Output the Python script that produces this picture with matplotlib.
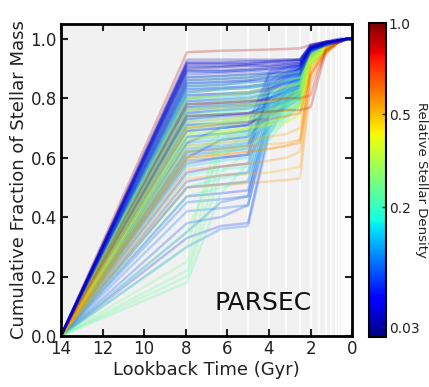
import numpy as np
import matplotlib
matplotlib.use("Agg")
from matplotlib import pyplot as plt
from matplotlib import colors, cm

# time nodes of the cumulative SFHs (Gyr); first is 0, last two are 1
node_times = [14.0, 7.94, 6.31, 5.01, 3.98, 3.16, 2.51, 2.0, 1.26, 0.63, 0.25, 0.0]
# white bin edges in the background
bin_edges = [7.94, 6.31, 5.01, 3.98, 3.16, 2.51, 2.0, 1.58, 1.26, 1.0, 0.79,
             0.63, 0.5, 0.4, 0.32, 0.25, 0.2, 0.16, 0.13, 0.1]

# each row: relative density, then cum. fraction at 7.94 .. 0.63 Gyr
red_rows = [
    [0.90, .955, .96, .962, .964, .966, .968, .98, .99, .995],
    [0.85, .78, .785, .79, .795, .80, .80, .81, .97, .99],
    [0.95, .74, .745, .75, .755, .76, .76, .77, .96, .99],
    [0.72, .70, .71, .72, .73, .74, .75, .88, .96, .99],
    [0.65, .60, .61, .62, .63, .64, .65, .88, .955, .99],
]
orange_rows = [
    [0.40, .80, .81, .82, .83, .84, .85, .95, .975, .99],
    [0.45, .76, .77, .78, .79, .80, .82, .94, .97, .99],
    [0.50, .72, .73, .74, .75, .76, .78, .93, .97, .99],
    [0.42, .68, .69, .70, .71, .72, .74, .92, .965, .99],
    [0.55, .64, .65, .66, .67, .68, .70, .91, .96, .99],
    [0.48, .60, .61, .62, .63, .64, .66, .90, .96, .99],
    [0.58, .56, .57, .58, .59, .60, .62, .89, .955, .99],
    [0.52, .53, .54, .545, .55, .56, .57, .87, .95, .99],
    [0.60, .50, .51, .515, .52, .525, .53, .85, .95, .99],
    [0.38, .70, .72, .73, .74, .76, .78, .93, .97, .99],
    [0.44, .66, .68, .70, .72, .74, .76, .92, .965, .99],
    [0.56, .62, .63, .64, .645, .65, .66, .90, .96, .99],
]
green_rows = [
    [0.26, .84, .85, .86, .87, .88, .89, .955, .98, .99],
    [0.28, .80, .81, .82, .84, .86, .87, .95, .975, .99],
    [0.30, .76, .78, .79, .81, .83, .85, .945, .975, .99],
    [0.25, .72, .75, .77, .79, .82, .84, .94, .97, .99],
    [0.32, .68, .72, .74, .77, .80, .83, .935, .97, .99],
    [0.27, .64, .70, .72, .76, .79, .82, .93, .97, .99],
    [0.29, .60, .68, .70, .74, .78, .81, .93, .965, .99],
    [0.24, .22, .60, .66, .74, .78, .81, .93, .965, .99],
    [0.26, .20, .55, .62, .72, .77, .80, .925, .965, .99],
    [0.28, .25, .66, .70, .76, .79, .82, .93, .97, .99],
    [0.23, .18, .48, .58, .70, .76, .79, .92, .96, .99],
    [0.25, .30, .70, .74, .78, .81, .83, .935, .97, .99],
    [0.27, .35, .62, .68, .75, .79, .82, .93, .97, .99],
    [0.34, .86, .865, .87, .88, .885, .89, .955, .98, .99],
    [0.33, .82, .83, .835, .85, .86, .87, .95, .975, .99],
    [0.35, .78, .79, .80, .82, .84, .85, .945, .975, .99],
    [0.31, .74, .76, .77, .79, .81, .83, .94, .97, .99],
    [0.36, .70, .72, .73, .76, .78, .80, .93, .97, .99],
    [0.33, .66, .68, .69, .72, .75, .78, .925, .965, .99],
    [0.30, .62, .66, .68, .71, .74, .77, .92, .965, .99],
    [0.35, .58, .62, .64, .68, .72, .75, .915, .96, .99],
]
cyan_rows = [
    [0.16, .86, .865, .87, .875, .88, .89, .96, .98, .99],
    [0.18, .84, .845, .85, .86, .87, .88, .955, .98, .99],
    [0.15, .82, .83, .835, .845, .855, .87, .955, .98, .99],
    [0.20, .80, .805, .81, .82, .84, .86, .95, .975, .99],
    [0.17, .78, .79, .795, .81, .83, .85, .95, .975, .99],
    [0.19, .76, .77, .78, .80, .82, .84, .945, .975, .99],
    [0.21, .74, .75, .76, .78, .81, .83, .94, .97, .99],
    [0.16, .72, .73, .74, .77, .80, .83, .94, .97, .99],
    [0.18, .70, .71, .72, .76, .79, .82, .935, .97, .99],
    [0.22, .68, .69, .70, .75, .78, .82, .935, .97, .99],
    [0.15, .66, .67, .68, .74, .78, .81, .93, .97, .99],
    [0.20, .64, .65, .66, .73, .77, .81, .93, .97, .99],
    [0.17, .62, .635, .645, .72, .77, .80, .93, .965, .99],
    [0.19, .60, .62, .63, .71, .76, .80, .925, .965, .99],
    [0.16, .57, .59, .60, .70, .75, .79, .92, .965, .99],
    [0.21, .54, .56, .57, .69, .74, .78, .92, .96, .99],
    [0.18, .50, .53, .55, .68, .74, .78, .92, .96, .99],
    [0.20, .47, .50, .52, .66, .73, .78, .915, .96, .99],
    [0.13, .89, .89, .895, .90, .905, .91, .965, .985, .995],
    [0.14, .87, .875, .88, .885, .89, .90, .96, .98, .99],
    [0.12, .85, .855, .86, .87, .88, .89, .96, .98, .99],
    [0.14, .83, .835, .84, .85, .86, .875, .955, .98, .99],
    [0.13, .81, .815, .82, .83, .85, .865, .95, .975, .99],
    [0.15, .79, .80, .805, .815, .835, .855, .95, .975, .99],
    [0.12, .77, .78, .785, .80, .825, .845, .945, .975, .99],
    [0.14, .75, .76, .77, .79, .815, .835, .94, .97, .99],
    [0.13, .73, .74, .75, .78, .81, .83, .94, .97, .99],
    [0.15, .71, .72, .73, .77, .80, .825, .935, .97, .99],
    [0.12, .69, .70, .71, .76, .79, .82, .935, .97, .99],
    [0.14, .67, .68, .69, .75, .785, .815, .93, .97, .99],
    [0.13, .65, .66, .67, .74, .78, .81, .93, .97, .99],
]
blue_low_rows = [
    [0.06, .62, .63, .64, .86, .89, .91, .97, .985, .995],
    [0.08, .58, .60, .61, .84, .88, .90, .965, .985, .995],
    [0.07, .55, .57, .58, .83, .87, .90, .965, .98, .995],
    [0.09, .52, .54, .55, .82, .86, .89, .96, .98, .99],
    [0.10, .50, .51, .52, .80, .85, .88, .96, .98, .99],
    [0.08, .47, .48, .49, .78, .84, .88, .955, .98, .99],
    [0.11, .45, .46, .47, .76, .83, .87, .955, .98, .99],
    [0.12, .42, .43, .44, .74, .82, .86, .95, .975, .99],
    [0.10, .38, .40, .44, .72, .80, .86, .95, .975, .99],
    [0.09, .33, .37, .38, .70, .79, .85, .95, .975, .99],
    [0.12, .30, .36, .37, .68, .78, .85, .945, .975, .99],
    [0.11, .35, .45, .47, .75, .82, .87, .95, .975, .99],
    [0.07, .60, .66, .67, .88, .90, .91, .97, .985, .995],
    [0.065, .65, .70, .71, .89, .905, .915, .97, .985, .995],
    [0.11, .63, .64, .65, .80, .84, .87, .95, .975, .99],
    [0.10, .61, .62, .63, .82, .86, .88, .955, .98, .99],
    [0.09, .59, .60, .61, .83, .87, .89, .96, .98, .99],
    [0.095, .67, .68, .69, .85, .88, .90, .96, .98, .99],
]
blue_rows = [
    [0.07, .82, .83, .835, .845, .855, .865, .95, .975, .99],
    [0.045, .80, .81, .815, .83, .84, .85, .95, .975, .99],
    [0.06, .78, .785, .79, .80, .82, .835, .945, .975, .99],
    [0.035, .76, .77, .775, .785, .80, .82, .94, .97, .99],
    [0.075, .74, .745, .75, .77, .79, .81, .94, .97, .99],
    [0.05, .71, .715, .72, .74, .77, .80, .935, .97, .99],
    [0.07, .83, .835, .84, .85, .86, .87, .955, .98, .99],
    [0.08, .81, .815, .82, .835, .85, .86, .95, .975, .99],
    [0.06, .79, .795, .80, .815, .83, .845, .95, .975, .99],
    [0.085, .77, .775, .78, .80, .82, .84, .945, .975, .99],
    [0.075, .75, .76, .765, .79, .81, .83, .94, .97, .99],
    [0.09, .73, .74, .745, .78, .80, .825, .94, .97, .99],
    [0.08, .69, .70, .71, .76, .79, .82, .935, .97, .99],
]
blue_top_rows = [
    [0.035, .93, .93, .93, .93, .93, .93, .98, .99, 1.0],
    [0.04, .92, .92, .925, .925, .93, .93, .975, .99, .995],
    [0.045, .91, .91, .915, .92, .92, .925, .975, .99, .995],
    [0.03, .90, .905, .91, .91, .915, .92, .97, .985, .995],
    [0.05, .89, .89, .895, .90, .905, .91, .97, .985, .995],
    [0.055, .88, .885, .89, .895, .90, .905, .965, .985, .995],
    [0.04, .87, .875, .88, .885, .89, .90, .965, .98, .995],
    [0.06, .86, .865, .87, .88, .885, .895, .96, .98, .99],
    [0.065, .85, .855, .86, .87, .875, .885, .96, .98, .99],
    [0.05, .84, .845, .855, .86, .87, .88, .955, .98, .99],
    [0.065, .92, .92, .92, .925, .925, .93, .98, .99, 1.0],
    [0.04, .915, .915, .915, .92, .925, .93, .975, .99, .995],
    [0.055, .905, .905, .91, .91, .915, .92, .97, .99, .995],
    [0.03, .895, .895, .90, .905, .91, .915, .97, .985, .995],
]

# colorbar calibration
cbar_dens = [0.027, 0.03, 0.2, 0.5, 1.0]
cbar_frac = [0.0, 0.032, 0.414, 0.71, 1.0]
cbar_ticks = [0.03, 0.2, 0.5, 1.0]
cbar_labels = ['0.03', '0.2', '0.5', '1.0']

txt = '#222222'
plt.rcParams['font.family'] = 'DejaVu Sans'
plt.rcParams['text.color'] = txt
plt.rcParams['axes.labelcolor'] = txt
plt.rcParams['xtick.color'] = txt
plt.rcParams['ytick.color'] = txt

def fwd(x):
    return np.interp(x, cbar_dens, cbar_frac)

def inv(y):
    return np.interp(y, cbar_frac, cbar_dens)

norm = colors.FuncNorm((fwd, inv), vmin=cbar_dens[0], vmax=1.0)
cmap = plt.get_cmap('jet')

fig = plt.figure(figsize=(4.29, 3.87), dpi=100)
ax = fig.add_axes([0.142, 0.132, 0.679, 0.806])
ax.set_facecolor('#f1f1f1')

for t in bin_edges:
    ax.axvline(t, color='white', lw=1.2, zorder=1)

# draw order: most blue first, warm curves over them, top blue band last
groups = [blue_rows, blue_low_rows, cyan_rows, green_rows, orange_rows, red_rows, blue_top_rows]
for rows in groups:
    for r in rows:
        y = [0.0] + r[1:] + [1.0, 1.0]
        ax.plot(node_times, y, color=cmap(norm(r[0])), lw=1.8, alpha=0.25, zorder=2)

ax.text(4.3, 0.11, 'PARSEC', fontsize=18, ha='center', va='center', color='#111111')

ax.set_xlim(14, 0)
ax.set_ylim(0, 1.05)
ax.set_xticks(np.arange(14, -1, -2))
ax.set_yticks(np.arange(0, 1.01, 0.2))
ax.set_xticklabels(['14', '12', '10', '8', '6', '4', '2', '0'])
ax.set_yticklabels(['0.0', '0.2', '0.4', '0.6', '0.8', '1.0'])
ax.tick_params(direction='in', top=True, right=True, length=5, width=1.5,
               labelsize=12, pad=3)
for s in ax.spines.values():
    s.set_linewidth(2)
ax.set_xlabel('Lookback Time (Gyr)', fontsize=13, labelpad=2)
ax.set_ylabel('Cumulative Fraction of Stellar Mass', fontsize=13, labelpad=2)

cax = fig.add_axes([0.860, 0.129, 0.040, 0.811])
sm = cm.ScalarMappable(norm=norm, cmap=cmap)
cb = fig.colorbar(sm, cax=cax)
cb.set_ticks(cbar_ticks)
cb.set_ticklabels(cbar_labels)
cb.ax.tick_params(direction='in', length=3, width=1, labelsize=10, pad=2)
cb.ax.minorticks_off()
cb.outline.set_linewidth(1.5)
cb.set_label('Relative Stellar Density', rotation=270, fontsize=9.5, labelpad=6)

fig.savefig('out.png', dpi=100)
